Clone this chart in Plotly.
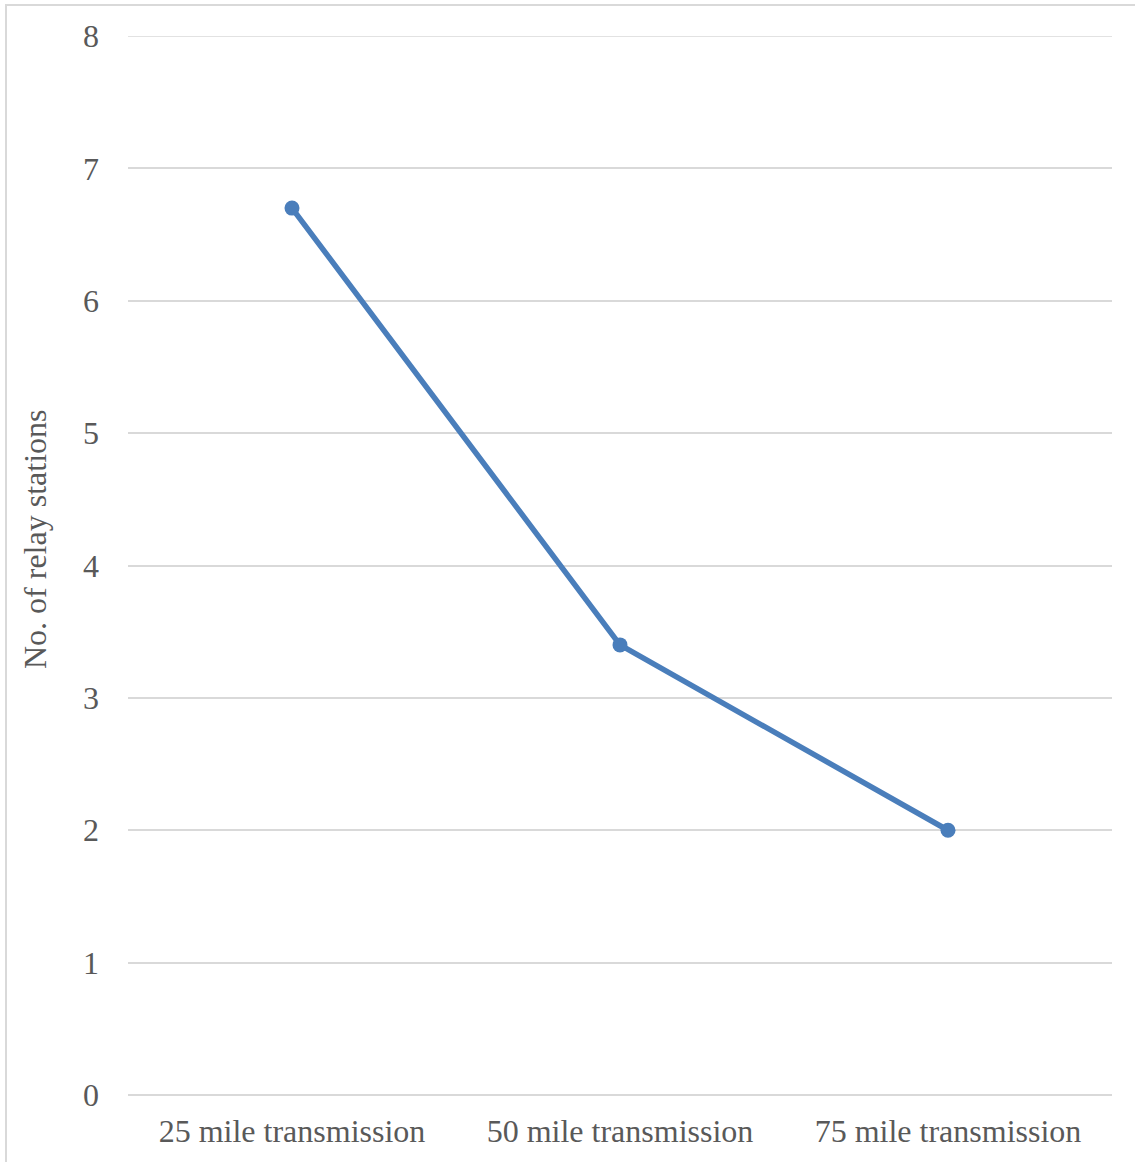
import plotly.graph_objects as go

# Relay stations needed for each transmission distance
categories = ["25 mile transmission", "50 mile transmission", "75 mile transmission"]
relay_stations = [6.7, 3.4, 2.0]
y_ticks = [0, 1, 2, 3, 4, 5, 6, 7, 8]
y_title = "No. of relay stations"

W, H = 1135, 1162
L, R, T, B = 128, 23, 36, 67
plot_w = W - L - R
plot_h = H - T - B

font_family = "Liberation Serif"
text_color = "#595959"
grid_color = "#d9d9d9"
line_color = "#4a7ebb"


def px_x(px):
    return (px - L) / plot_w


def px_y(py):
    return (H - B - py) / plot_h


fig = go.Figure()
fig.add_trace(go.Scatter(
    x=categories,
    y=relay_stations,
    mode="lines+markers",
    line=dict(color=line_color, width=5.5),
    marker=dict(color=line_color, size=15),
    showlegend=False,
    cliponaxis=False,
))

# light outer frame around the chart area
fig.add_shape(
    type="rect", xref="paper", yref="paper",
    x0=px_x(6), x1=px_x(W + 10), y0=px_y(H + 10), y1=px_y(5),
    line=dict(color="#d9d9d9", width=2), fillcolor="rgba(0,0,0,0)", layer="below",
)

# top gridline sits on the plot edge, so draw it explicitly
fig.add_shape(
    type="line", xref="paper", yref="y",
    x0=0, x1=1, y0=y_ticks[-1], y1=y_ticks[-1],
    line=dict(color=grid_color, width=1.5), layer="below",
)

# vertical axis title
fig.add_annotation(
    text=y_title, textangle=-90, showarrow=False,
    xref="paper", yref="paper", x=px_x(35), y=px_y(539),
    xanchor="center", yanchor="middle",
    font=dict(family=font_family, size=32, color=text_color),
)

fig.update_layout(
    width=W, height=H,
    margin=dict(l=L, r=R, t=T, b=B, pad=0),
    paper_bgcolor="white",
    plot_bgcolor="white",
    font=dict(family=font_family, size=32, color=text_color),
    xaxis=dict(
        type="category",
        range=[-0.5, 2.5],
        showgrid=False,
        showline=False,
        zeroline=False,
        ticks="",
        ticklabelstandoff=14,
        tickfont=dict(family=font_family, size=32, color=text_color),
    ),
    yaxis=dict(
        range=[0, 8],
        tickvals=y_ticks,
        showgrid=True,
        gridcolor=grid_color,
        gridwidth=1.5,
        zeroline=True,
        zerolinecolor=grid_color,
        zerolinewidth=1.5,
        showline=False,
        ticks="",
        ticklabelstandoff=28,
        tickfont=dict(family=font_family, size=32, color=text_color),
    ),
)

fig.write_html("out.html")
